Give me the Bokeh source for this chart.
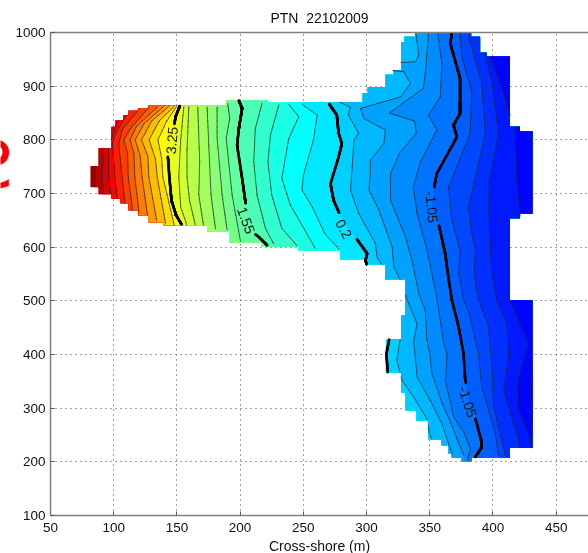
from bokeh.plotting import figure
from bokeh.models import LinearAxis, ColumnDataSource, FixedTicker
from bokeh.core.properties import value
from bokeh.embed import file_html
from bokeh.resources import INLINE

x_ticks = [50, 100, 150, 200, 250, 300, 350, 400, 450, 500]
y_ticks = [100, 200, 300, 400, 500, 600, 700, 800, 900, 1000]
title_text = "PTN\u00a0\u00a022102009"
x_label = "Cross-shore (m)"
cut_off_text = "\u01a7"

# Survey footprint: x0, x1, y0, y1
footprint = [
    (338.7, 382.7, 992, 1000), (330, 389.8, 982, 992), (327.3, 389.8, 962, 982),
    (327.3, 394.8, 955, 962), (327.3, 413.5, 930, 955), (321, 413.5, 921, 930),
    (315, 413.5, 898, 921), (301, 413.5, 887, 898), (297, 413.5, 870, 887),
    (189.2, 221.6, 868, 873), (221.6, 413.5, 868, 870), (189.2, 413.5, 863, 868),
    (127.5, 413.5, 859, 863), (119.6, 413.5, 854, 859), (111.7, 413.5, 846, 854),
    (107.7, 413.5, 835.5, 846), (101.4, 413.5, 824, 835.5), (98.2, 421.4, 815, 824),
    (98.2, 431.2, 784.5, 815), (88, 431.2, 751, 784.5), (81.6, 431.2, 711.8, 751),
    (88, 431.2, 698.7, 711.8), (98.2, 431.2, 690.7, 698.7), (105.4, 431.2, 682, 690.7),
    (111.7, 431.2, 669, 682), (119.6, 431.2, 663, 669), (119.6, 421.4, 659.5, 663),
    (127.5, 421.4, 654, 659.5), (127.5, 413.5, 646.5, 654), (139.4, 413.5, 641, 646.5),
    (174, 413.5, 630, 641), (191.6, 413.5, 609, 630), (217, 413.5, 601.7, 609),
    (246, 413.5, 594, 601.7), (279.3, 413.5, 577.5, 594), (299, 413.5, 568, 577.5),
    (314.9, 413.5, 540, 568), (330.7, 413.5, 501, 540), (330.7, 431.2, 473, 501),
    (327.3, 431.2, 428, 473), (315.4, 431.2, 366.6, 428), (327.3, 431.2, 329, 366.6),
    (330.7, 431.2, 296, 329), (339.4, 431.2, 277, 296), (348.9, 431.2, 242, 277),
    (359.2, 431.2, 230.8, 242), (364.7, 431.2, 226, 230.8), (364.7, 413.5, 216, 226),
    (367.1, 413.5, 208, 216), (375, 383, 201, 208),
]
footprint = [(a, b, min(c, d), max(c, d)) for a, b, c, d in footprint]

# Contours, west to east, each running north to south
h1 = [(85.5, 751), (85.5, 712)]
h2 = [(92, 785), (90.9, 731), (92, 699)]
h3 = [(103, 835), (98, 800), (96, 785), (96, 731), (98, 698)]
h4 = [(111, 848), (102, 815), (99, 793), (100.9, 731), (103, 690)]
h5 = [(120, 857), (107, 820), (104, 793), (106.7, 731), (109, 680)]
h6 = [(128, 861), (113, 820), (108, 800), (111, 775), (111.5, 731), (115, 669)]
h7 = [(135, 862), (118, 825), (113, 800), (116, 775), (116.7, 731), (120, 665)]
h8 = [(140, 863), (124, 830), (117, 800), (121, 770), (122.5, 731), (127, 655)]
h9 = [(144, 863), (130, 835), (122, 800), (127, 770), (127.8, 731), (134, 650)]
h10 = [(148, 863), (136, 835), (128, 800), (133, 765), (134.4, 731), (141, 645)]
h11 = [(150, 863), (142, 835), (135, 800), (138, 765), (138.9, 731), (148, 640)]
t325 = [(152.3, 863), (148.9, 843), (147.3, 818), (142.3, 781), (143, 765), (144, 731),
        (145.7, 687), (149.4, 659.4), (153.6, 642.6)]
a0 = [(155.5, 862), (153, 800), (151.5, 731), (153, 675), (158, 640)]
a1 = [(159.4, 862), (158, 781), (158, 731), (160, 687), (164.7, 640)]
a2 = [(166.5, 861), (168, 759), (167.3, 697), (171, 641)]
b1 = [(173.9, 861), (175.2, 790), (177, 697), (180.5, 634)]
c1 = [(181.8, 861), (181.8, 803), (185.8, 697), (189.7, 632)]
d1 = [(190.2, 868), (191.8, 840), (189, 803), (193.7, 697), (200.3, 611)]
t155 = [(199, 873), (201.6, 858.5), (199, 821), (197.6, 790), (201.6, 728), (204.2, 684),
        (206, 650), (209.5, 628.4), (214.8, 619), (221.4, 603.5)]
e1 = [(217.4, 868), (212, 821), (210.8, 759), (213.4, 697), (220, 635), (226.6, 606)]
f1 = [(230.6, 865), (224, 809), (222, 759), (225, 697), (233, 635), (245, 603)]
g1 = [(238.5, 866), (246.4, 843), (238.5, 803), (233, 728), (239.8, 678), (250.4, 635), (259.6, 597)]
h12 = [(249, 866), (261, 846), (258, 800), (250, 734), (249, 706), (257, 675), (267, 625), (278, 597)]
t02 = [(270.5, 866.5), (276.5, 846), (277.9, 812), (280.5, 793), (277.9, 768), (271.5, 718),
       (273.9, 687.4), (278, 665.6), (285, 635), (292, 616), (300.5, 588), (299.2, 575.4),
       (318, 429), (315.7, 401), (316.8, 367)]
i1 = [(277.9, 871), (287, 861), (285.8, 846), (293.7, 812), (290, 799), (288.7, 750), (287.3, 706),
      (294, 662), (307, 606.6), (308.4, 581), (311, 572), (326.6, 428.6), (324, 389.5), (328, 352),
      (338, 318), (348.5, 277), (349.5, 255), (352, 240)]
j1 = [(339, 998), (341.4, 958), (338.8, 945.6), (327, 944), (321, 929), (329.5, 927), (334.8, 905),
      (326.9, 880), (295.2, 858.5), (297.9, 840), (315, 818), (313.7, 793), (303, 762), (303, 737),
      (302, 706), (309.8, 669), (320.3, 600), (321.6, 563), (326.9, 538), (330.6, 511), (340, 457),
      (337.3, 426), (340, 357.8), (350.5, 314), (359.7, 270.7), (364, 240), (367.7, 214.7)]
k1 = [(349, 998), (347, 936), (345, 896), (318, 850), (338, 835), (339.3, 812), (326, 775), (319, 737),
      (319, 687), (330.8, 619), (336, 575), (341.4, 513), (346.4, 483), (347.7, 427), (350, 402),
      (351.7, 364.6), (360, 308), (368, 265), (372, 240), (377, 212)]
l1 = [(356.4, 998), (359.6, 942), (358.3, 880), (349, 846), (355.6, 818), (342.7, 759), (337, 712),
      (340, 662.5), (348, 594), (353.3, 532), (356, 500), (361, 420.6), (363.7, 401), (362.4, 351.6),
      (369, 283), (377, 255), (382, 225), (380, 204)]
t105 = [(367.5, 998), (366.2, 980), (374, 914.5), (374, 849), (368.8, 827.4), (371.5, 805.6),
        (355.6, 737), (353.8, 715.4), (352, 675), (357, 644), (362.2, 588), (364.9, 541), (367.5, 501.4),
        (372.8, 451.7), (376.7, 402), (378, 355.3), (381, 312), (385.4, 286.9), (390.7, 240.2),
        (391.2, 227.8), (386, 209)]
m1 = [(374, 998), (375.4, 955), (383.3, 889), (382, 812), (364.9, 712), (367.5, 650), (374, 594),
      (373, 551), (376.7, 501), (380.7, 480), (388.6, 402), (391.2, 340), (401.8, 252.6), (404.4, 212)]
n1 = [(380.7, 992), (391.2, 905), (393.9, 812), (380.7, 675), (383.3, 625), (386.2, 594), (385, 551),
      (388.6, 501), (396.5, 451.7), (399.2, 377), (400.5, 302), (407, 240), (410, 210)]
o1 = [(389.9, 992), (399, 911), (404.4, 812), (397, 720), (396.8, 669), (398, 594), (399.2, 551),
      (403, 501), (411, 458), (412.4, 395.7), (408.4, 333.5), (420.3, 240), (420.8, 228)]
p1 = [(398, 955), (408, 890), (413.5, 845), (417.6, 818), (419, 718), (421.5, 663), (418, 580),
      (413.7, 501), (428, 420.6), (420, 352), (420, 302), (429.5, 240), (431, 226)]
u1 = [(431.5, 400), (430, 327), (430.8, 283.7), (431.5, 250)]

contour_lines = [h1, h2, h3, h4, h5, h6, h7, h8, h9, h10, h11, t325, a0, a1, a2, b1, c1, d1, t155,
                 e1, f1, g1, h12, t02, i1, j1, k1, l1, t105, m1, n1, o1, p1, u1]
contour_levels = [7.1, 6.75, 6.4, 6.05, 5.7, 5.35, 5.0, 4.65, 4.3, 3.95, 3.6, 3.25, 3.0, 2.75, 2.5, 2.25,
                  2.0, 1.75, 1.55, 1.28, 1.0, 0.75, 0.48, 0.2, -0.05, -0.3, -0.55, -0.8, -1.05, -1.3,
                  -1.55, -1.8, -2.05, -2.3]
thick_levels = [3.25, 1.55, 0.2, -1.05]

label_x = [146, 204.8, 282, 351.5, 380]
label_y = [799, 650, 634, 675, 312]
label_text = ["3.25", "1.55", "0.2", "-1.05", "-1.05"]
label_angle = [85, -70, -61, -85, -72]
label_gap = [17, 17, 17, 20, 19]

X0, X1, Y0, Y1 = 50, 475.6, 100, 1000
FRAME_W, FRAME_H = 538, 483


def jet(f):
    f = max(0.0, min(1.0, f))
    def ch(v):
        return max(0.0, min(1.0, 1.5 - abs(4 * f - v)))
    r, g, b = ch(3), ch(2), ch(1)
    return "#%02x%02x%02x" % (round(r * 255), round(g * 255), round(b * 255))


def level_color(v):
    return jet(0.375 + (v - 0.6) * 0.0893)


def clip_rect(poly, x0, x1, y0, y1):
    edges = [(0, x0, 1), (0, x1, -1), (1, y0, 1), (1, y1, -1)]
    for axis, lim, sign in edges:
        out = []
        n = len(poly)
        for i in range(n):
            a, b = poly[i], poly[(i + 1) % n]
            ain = (a[axis] - lim) * sign >= 0
            bin_ = (b[axis] - lim) * sign >= 0
            if ain:
                out.append(a)
            if ain != bin_:
                t = (lim - a[axis]) / (b[axis] - a[axis])
                out.append((a[0] + t * (b[0] - a[0]), a[1] + t * (b[1] - a[1])))
        poly = out
        if not poly:
            return []
    return poly


def clip_segment(a, b, x0, x1, y0, y1):
    t0, t1 = 0.0, 1.0
    dx, dy = b[0] - a[0], b[1] - a[1]
    for p_, q_ in ((-dx, a[0] - x0), (dx, x1 - a[0]), (-dy, a[1] - y0), (dy, y1 - a[1])):
        if p_ == 0:
            if q_ < 0:
                return None
        else:
            r = q_ / p_
            if p_ < 0:
                t0 = max(t0, r)
            else:
                t1 = min(t1, r)
    if t0 >= t1:
        return None
    return ((a[0] + t0 * dx, a[1] + t0 * dy), (a[0] + t1 * dx, a[1] + t1 * dy))


def in_label_gap(px, py):
    sx, sy = FRAME_W / (X1 - X0), FRAME_H / (Y1 - Y0)
    for lx, ly, r in zip(label_x, label_y, label_gap):
        if ((px - lx) * sx) ** 2 + ((py - ly) * sy) ** 2 < r * r:
            return True
    return False


p = figure(width=588, height=558, output_backend="svg", toolbar_location=None,
           x_range=(X0, X1), y_range=(Y0, Y1),
           min_border_left=50, min_border_right=0, min_border_top=32, min_border_bottom=43,
           background_fill_color="white", border_fill_color=None,
           styles={"position": "fixed", "left": "0px", "top": "0px"})

p.title.text = title_text
p.title.align = "center"
p.title.text_font = "Liberation Sans"
p.title.text_font_style = "normal"
p.title.text_font_size = "14px"
p.title.text_color = "#111111"
p.title.standoff = 13

for ax in (p.xaxis[0], p.yaxis[0]):
    ax.axis_line_color = "#808080"
    ax.axis_line_width = 1.5
    ax.major_tick_line_color = "#555555"
    ax.major_tick_in = 4
    ax.major_tick_out = 0
    ax.minor_tick_line_color = None
    ax.major_label_text_font = "Liberation Sans"
    ax.major_label_text_font_size = "13.5px"
    ax.major_label_text_color = "#111111"
    ax.major_label_standoff = 5
p.xaxis[0].major_label_standoff = 7
p.xaxis[0].ticker = FixedTicker(ticks=x_ticks)
p.yaxis[0].ticker = FixedTicker(ticks=y_ticks)
p.xaxis[0].axis_label = x_label
p.xaxis[0].axis_label_text_font = "Liberation Sans"
p.xaxis[0].axis_label_text_font_style = "normal"
p.xaxis[0].axis_label_text_font_size = "14px"
p.xaxis[0].axis_label_text_color = "#111111"
p.xaxis[0].axis_label_standoff = 3

top_axis = LinearAxis(ticker=FixedTicker(ticks=[]), axis_line_color="#808080", axis_line_width=1.5,
                      major_label_text_font_size="0px", major_tick_line_color=None,
                      minor_tick_line_color=None)
p.add_layout(top_axis, "above")
p.outline_line_color = None

for g in (p.xgrid[0], p.ygrid[0]):
    g.grid_line_color = "#444444"
    g.grid_line_dash = "1 4"
    g.grid_line_width = 1
p.xgrid[0].ticker = FixedTicker(ticks=x_ticks)
p.ygrid[0].ticker = FixedTicker(ticks=y_ticks)

xs, ys, colors = [], [], []
pad = 0.3
for x0, x1, y0, y1 in footprint:
    xs.append([x0, x1, x1, x0])
    ys.append([y0 - pad, y0 - pad, y1 + pad, y1 + pad])
    colors.append(level_color(contour_levels[0] + 0.2))

for i, line in enumerate(contour_lines):
    next_level = contour_levels[i + 1] if i + 1 < len(contour_levels) else contour_levels[i] - 0.25
    col = level_color((contour_levels[i] + next_level) / 2)
    poly = [(line[0][0], 1100)] + list(line) + [(line[-1][0], 50), (520, 50), (520, 1100)]
    for x0, x1, y0, y1 in footprint:
        c = clip_rect(poly, x0, x1, y0 - pad, y1 + pad)
        if len(c) >= 3:
            xs.append([q[0] for q in c])
            ys.append([q[1] for q in c])
            colors.append(col)

p.patches(xs, ys, fill_color=colors, line_color=None)

thin_x, thin_y, thick_x, thick_y = [], [], [], []
for i, line in enumerate(contour_lines):
    thick = contour_levels[i] in thick_levels
    for a, b in zip(line[:-1], line[1:]):
        for x0, x1, y0, y1 in footprint:
            s = clip_segment(a, b, x0, x1, y0, y1)
            if not s:
                continue
            if thick:
                steps = 10
                for k in range(steps):
                    u0, u1 = k / steps, (k + 1) / steps
                    ax_, ay_ = s[0][0] + u0 * (s[1][0] - s[0][0]), s[0][1] + u0 * (s[1][1] - s[0][1])
                    bx_, by_ = s[0][0] + u1 * (s[1][0] - s[0][0]), s[0][1] + u1 * (s[1][1] - s[0][1])
                    if not in_label_gap((ax_ + bx_) / 2, (ay_ + by_) / 2):
                        thick_x.append([ax_, bx_])
                        thick_y.append([ay_, by_])
            else:
                thin_x.append([s[0][0], s[1][0]])
                thin_y.append([s[0][1], s[1][1]])

p.multi_line(thin_x, thin_y, line_color="#202828", line_width=0.9, line_alpha=0.8, line_cap="round")
p.multi_line(thick_x, thick_y, line_color="#000000", line_width=2.6, line_cap="round")

label_src = ColumnDataSource(dict(x=label_x, y=label_y, t=label_text, a=label_angle))
p.text("x", "y", text="t", angle="a", angle_units="deg", source=label_src,
       text_font=value("Liberation Sans"), text_font_size="14px", text_color="#111111",
       text_align="center", text_baseline="middle")

# The cut-off red glyph in the left margin sits in its own small figure
p2 = figure(width=11, height=70, output_backend="svg", toolbar_location=None,
            x_range=(0, 11), y_range=(200, 130), x_axis_location=None, y_axis_location=None,
            min_border=0, background_fill_color=None, border_fill_color=None,
            outline_line_color=None,
            styles={"position": "fixed", "left": "0px", "top": "130px"})
p2.grid.visible = False
p2.text([13], [165], text=[cut_off_text], text_font=value("DejaVu Sans"), text_font_size="66px",
        text_color="#ff0000", text_align="right", text_baseline="middle")

open("out.html", "w").write(file_html([p, p2], INLINE))
